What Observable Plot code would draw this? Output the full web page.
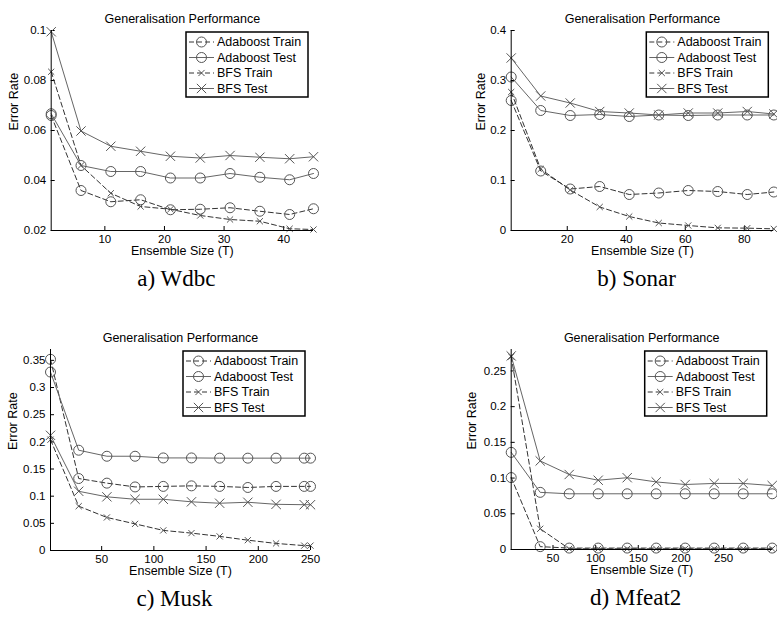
<!DOCTYPE html>
<html><head><meta charset="utf-8">
<script src="https://cdn.jsdelivr.net/npm/d3@7"></script>
<script src="https://cdn.jsdelivr.net/npm/@observablehq/plot@0.6"></script>
<style>
body{margin:0;background:#fff;}
#root{position:relative;width:777px;height:621px;overflow:hidden;background:#fff;}
#root svg{position:absolute;overflow:visible;}
</style></head><body><div id="root"></div>
<script>
const seriesNames = ["Adaboost Train", "Adaboost Test", "BFS Train", "BFS Test"];
const chartTitle = "Generalisation Performance";
const xLabel = "Ensemble Size (T)";
const yLabel = "Error Rate";

// a) Wdbc
const wdbcT = [1, 6, 11, 16, 21, 26, 31, 36, 41, 45];
const wdbcAdaTrain = [0.066, 0.036, 0.0315, 0.0323, 0.0283, 0.0285, 0.0291, 0.0277, 0.0264, 0.0287];
const wdbcAdaTest = [0.0667, 0.046, 0.0436, 0.0436, 0.041, 0.041, 0.0428, 0.0413, 0.0403, 0.0428];
const wdbcBfsTrain = [0.0835, 0.046, 0.0349, 0.0296, 0.0285, 0.026, 0.0244, 0.0237, 0.0207, 0.0204];
const wdbcBfsTest = [0.0995, 0.0598, 0.0537, 0.0517, 0.0497, 0.049, 0.05, 0.0493, 0.0487, 0.0495];
const wdbcXTicks = [10, 20, 30, 40];
const wdbcYTicks = [0.02, 0.04, 0.06, 0.08, 0.1];

// b) Sonar
const sonarT = [1, 11, 21, 31, 41, 51, 61, 71, 81, 90];
const sonarAdaTrain = [0.26, 0.119, 0.083, 0.088, 0.072, 0.075, 0.08, 0.078, 0.072, 0.077];
const sonarAdaTest = [0.307, 0.24, 0.23, 0.232, 0.228, 0.231, 0.23, 0.231, 0.231, 0.231];
const sonarBfsTrain = [0.277, 0.123, 0.081, 0.047, 0.028, 0.015, 0.01, 0.0053, 0.0047, 0.0033];
const sonarBfsTest = [0.345, 0.269, 0.255, 0.238, 0.235, 0.231, 0.235, 0.235, 0.238, 0.233];
const sonarXTicks = [20, 40, 60, 80];
const sonarYTicks = [0, 0.1, 0.2, 0.3, 0.4];

// c) Musk
const muskT = [1, 28, 55, 82, 109, 136, 163, 190, 217, 244, 250];
const muskAdaTrain = [0.352, 0.1325, 0.124, 0.117, 0.118, 0.119, 0.118, 0.116, 0.118, 0.118, 0.118];
const muskAdaTest = [0.3285, 0.1846, 0.1735, 0.1735, 0.1704, 0.1704, 0.17, 0.17, 0.17, 0.17, 0.17];
const muskBfsTrain = [0.204, 0.0816, 0.0608, 0.049, 0.037, 0.032, 0.026, 0.019, 0.013, 0.009, 0.009];
const muskBfsTest = [0.212, 0.109, 0.0988, 0.0943, 0.0943, 0.0896, 0.087, 0.0888, 0.085, 0.0843, 0.0843];
const muskXTicks = [50, 100, 150, 200, 250];
const muskYTicks = [0, 0.05, 0.1, 0.15, 0.2, 0.25, 0.3, 0.35];

// d) Mfeat2
const mfeatT = [1, 35, 69, 103, 137, 171, 205, 239, 273, 307];
const mfeatAdaTrain = [0.1007, 0.004, 0.002, 0.002, 0.002, 0.002, 0.002, 0.002, 0.002, 0.002];
const mfeatAdaTest = [0.136, 0.08, 0.078, 0.078, 0.078, 0.078, 0.078, 0.078, 0.078, 0.078];
const mfeatBfsTrain = [0.27, 0.029, 0.001, 0.001, 0.001, 0.001, 0.001, 0.001, 0.001, 0.001];
const mfeatBfsTest = [0.271, 0.124, 0.105, 0.097, 0.1005, 0.0946, 0.091, 0.0925, 0.0925, 0.0895];
const mfeatXTicks = [50, 100, 150, 200, 250];
const mfeatYTicks = [0, 0.05, 0.1, 0.15, 0.2, 0.25];

const panels = [
  {caption: "a) Wdbc", T: wdbcT, series: [wdbcAdaTrain, wdbcAdaTest, wdbcBfsTrain, wdbcBfsTest],
   xDomain: [1, 45], yDomain: [0.02, 0.1], xTicks: wdbcXTicks, yTicks: wdbcYTicks,
   left: 0, top: 0, width: 388, height: 300, mL: 50.7, mR: 75, mT: 30, mB: 70, ylabDx: -37.7},
  {caption: "b) Sonar", T: sonarT, series: [sonarAdaTrain, sonarAdaTest, sonarBfsTrain, sonarBfsTest],
   xDomain: [1, 90], yDomain: [0, 0.4], xTicks: sonarXTicks, yTicks: sonarYTicks,
   left: 388, top: 0, width: 389, height: 300, mL: 122.7, mR: 3.7, mT: 30, mB: 70, ylabDx: -30.7},
  {caption: "c) Musk", T: muskT, series: [muskAdaTrain, muskAdaTest, muskBfsTrain, muskBfsTest],
   xDomain: [1, 250], yDomain: [0, 0.37], xTicks: muskXTicks, yTicks: muskYTicks,
   left: 0, top: 319, width: 388, height: 300, mL: 50, mR: 78, mT: 30, mB: 69, ylabDx: -38},
  {caption: "d) Mfeat2", T: mfeatT, series: [mfeatAdaTrain, mfeatAdaTest, mfeatBfsTrain, mfeatBfsTest],
   xDomain: [1, 307], yDomain: [0, 0.28], xTicks: mfeatXTicks, yTicks: mfeatYTicks,
   left: 388, top: 319, width: 389, height: 300, mL: 122.7, mR: 5.3, mT: 30, mB: 70, ylabDx: -39}
];

const styles = {
  "Adaboost Train": {dash: "5,3", symbol: "circle", r: 5, stroke: "#333"},
  "Adaboost Test": {dash: null, symbol: "circle", r: 5, stroke: "#666"},
  "BFS Train": {dash: "5,3", symbol: "times", r: 2.9, stroke: "#333"},
  "BFS Test": {dash: null, symbol: "times", r: 4.3, stroke: "#666"}
};
const markerColor = "#555";
const sans = "'Liberation Sans', Arial, Helvetica, sans-serif";
const serif = "'Liberation Serif', 'Times New Roman', serif";
const fmt = d3.format("~g");

const root = document.getElementById("root");

for (const p of panels) {
  const rows = [];
  seriesNames.forEach((name, i) => p.T.forEach((t, j) => rows.push({name, t, v: p.series[i][j]})));
  const dataMarks = seriesNames.flatMap(name => {
    const d = rows.filter(r => r.name === name);
    const s = styles[name];
    return [
      Plot.line(d, {x: "t", y: "v", stroke: s.stroke, strokeWidth: 1, strokeDasharray: s.dash}),
      Plot.dot(d, {x: "t", y: "v", symbol: s.symbol, r: s.r, stroke: markerColor, fill: "none", strokeWidth: 1})
    ];
  });
  const svg = Plot.plot({
    width: p.width, height: p.height,
    marginLeft: p.mL, marginRight: p.mR, marginTop: p.mT, marginBottom: p.mB,
    x: {domain: p.xDomain},
    y: {domain: p.yDomain},
    style: {fontFamily: sans, fontSize: "11.5px", color: "#000", background: "transparent"},
    marks: [
      Plot.axisY(p.yTicks, {tickSize: 0, tickPadding: 5, tickFormat: fmt, label: null, fontSize: 11.5}),
      Plot.axisY(p.yTicks, {tickSize: 4, fill: "none", dx: 4, label: null}),
      Plot.axisX(p.xTicks, {tickSize: 0, tickPadding: 4, tickFormat: fmt, label: null, fontSize: 11.5}),
      Plot.axisX(p.xTicks, {tickSize: 4, fill: "none", dy: -4, label: null}),
      ...dataMarks,
      Plot.ruleX([p.xDomain[0]], {stroke: "#000", strokeWidth: 1}),
      Plot.ruleY([p.yDomain[0]], {stroke: "#000", strokeWidth: 1}),
      Plot.text([chartTitle], {text: d => d, frameAnchor: "top", dy: -16, fontSize: 12.5}),
      Plot.text([xLabel], {text: d => d, frameAnchor: "bottom", dy: 24, fontSize: 12.5}),
      Plot.text([yLabel], {text: d => d, frameAnchor: "left", dx: p.ylabDx, rotate: -90, fontSize: 12.5}),
      Plot.text([p.caption], {text: d => d, frameAnchor: "bottom", dy: 55, dx: -6, fontSize: 23, fontFamily: serif})
    ]
  });
  svg.style.left = p.left + "px";
  svg.style.top = p.top + "px";

  // legend box (top-right of the plot area)
  const right = p.width - p.mR;
  const bw = 122, bh = 65;
  const bx = right - 5 - bw, by = p.mT + 2;
  const g = d3.select(svg).append("g").attr("text-anchor", "start");
  g.append("rect").attr("x", bx).attr("y", by).attr("width", bw).attr("height", bh)
    .attr("fill", "#fff").attr("stroke", "#000").attr("stroke-width", 1.5);
  seriesNames.forEach((name, i) => {
    const s = styles[name];
    const yy = by + 10 + i * 15.5;
    g.append("line").attr("x1", bx + 3).attr("x2", bx + 28).attr("y1", yy).attr("y2", yy)
      .attr("stroke", s.stroke).attr("stroke-dasharray", s.dash);
    const sym = s.symbol === "circle" ? d3.symbolCircle : d3.symbolTimes;
    g.append("path").attr("d", d3.symbol(sym, Math.PI * s.r * s.r)())
      .attr("transform", `translate(${bx + 15.5},${yy})`)
      .attr("fill", "none").attr("stroke", markerColor);
    g.append("text").attr("x", bx + 31).attr("y", yy).attr("dy", "0.35em")
      .attr("text-anchor", "start")
      .attr("font-size", 12.5).attr("font-family", sans).attr("fill", "#000").text(name);
  });
  root.appendChild(svg);
}
</script></body></html>
